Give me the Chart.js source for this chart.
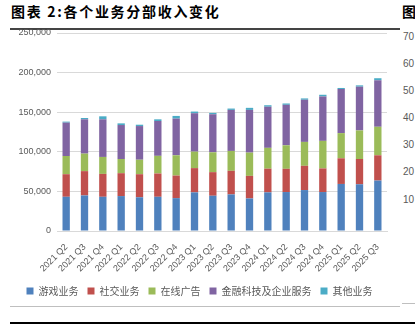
<!DOCTYPE html>
<html><head><meta charset="utf-8">
<script src="https://cdn.jsdelivr.net/npm/chart.js@4"></script>
<style>
body{margin:0;width:415px;height:328px;background:#fff;overflow:hidden;position:relative;font-family:"Noto Sans CJK SC",sans-serif}
#c{position:absolute;left:0;top:0}
.abs{position:absolute;white-space:nowrap}
.r{font-family:"Liberation Sans",Arial,sans-serif;font-size:10px;color:#595959}
</style></head><body>
<div class="abs" style="left:11px;top:2px;font-size:14px;font-weight:bold;letter-spacing:1.7px;color:#000;line-height:18px">图表 2:各个业务分部收入变化</div>
<div class="abs" style="left:402px;top:2px;font-size:14px;font-weight:bold;color:#000;line-height:18px">图</div>
<div class="abs" style="left:10px;top:28px;width:390px;height:2px;background:#444"></div>
<div class="abs" style="left:10px;top:306px;width:390px;height:1px;background:#bfbfbf"></div>
<div class="abs" style="left:402px;top:303px;width:13px;height:1px;background:#bfbfbf"></div>
<div class="abs" style="left:10px;top:322px;width:405px;height:2px;background:#000"></div>
<div id="rt"></div>
<canvas id="c" width="415" height="328"></canvas>
<script>
const categories = ['2021 Q2','2021 Q3','2021 Q4','2022 Q1','2022 Q2','2022 Q3','2022 Q4','2023 Q1','2023 Q2','2023 Q3','2023 Q4','2024 Q1','2024 Q2','2024 Q3','2024 Q4','2025 Q1','2025 Q2','2025 Q3'];
const games   = [43200,44900,43200,44100,42600,43200,41500,48800,44500,46200,41100,48800,49200,51700,49200,59400,59000,63700];
const social  = [28500,30700,28900,28900,29100,29400,28500,30600,29800,29800,28500,29900,29300,30600,29800,32400,31900,31900];
const ads     = [23000,22100,21400,17900,18300,22300,25600,20800,25100,25100,29400,26300,29700,30200,34800,31800,36100,36000];
const fintech = [42100,43300,47500,42900,42500,44000,46300,48500,48000,51800,53900,51900,51100,53200,56100,55700,55200,58700];
const others  = [1300,1700,3800,2100,1700,2100,3400,2100,1700,1700,2600,1900,1700,1700,2100,1300,1700,2600];
const seriesNames = ['游戏业务','社交业务','在线广告','金融科技及企业服务','其他业务'];
const colors = ['#4f81bd','#c0504d','#9bbb59','#8064a2','#4bacc6'];
const yTicks = [0,50000,100000,150000,200000,250000];
const rightTicks = ['70','60','50','40','30','20','10'];
const rightTickY = [37,64,91,118,145,172,200];

const rt = document.getElementById('rt');
rightTicks.forEach((t,i)=>{const d=document.createElement('div');d.className='abs r';d.style.left='403px';d.style.top=(rightTickY[i]-6)+'px';d.style.lineHeight='12px';d.textContent=t;rt.appendChild(d);});

const seriesData=[games,social,ads,fintech,others];
new Chart(document.getElementById('c'),{
 type:'bar',
 data:{labels:categories,datasets:seriesNames.map((n,i)=>({label:n,data:seriesData[i],backgroundColor:colors[i],barPercentage:0.4,categoryPercentage:1.0}))},
 options:{
  responsive:false,animation:false,
  layout:{padding:{left:12,right:28,top:33,bottom:22}},
  plugins:{legend:{position:'bottom',labels:{boxWidth:7,boxHeight:7,padding:9,color:'#595959',font:{size:10,family:'"Noto Sans CJK SC"'}}},tooltip:{enabled:false}},
  scales:{
   x:{stacked:true,grid:{display:false},border:{color:'#d9d9d9'},ticks:{autoSkip:false,minRotation:45,maxRotation:45,color:'#595959',font:{size:9,family:'"Liberation Sans"'},padding:3},afterFit(s){s.height=46;}},
   y:{stacked:true,min:0,max:250000,afterBuildTicks(s){s.ticks=yTicks.map(v=>({value:v}));},ticks:{color:'#595959',font:{size:9,family:'"Liberation Sans"'},padding:6,callback:v=>v.toLocaleString('en-US')},grid:{color:'#d9d9d9',drawTicks:false},border:{display:false},afterFit(s){s.width=45;}}
  }
 }
});
</script>
</body></html>
